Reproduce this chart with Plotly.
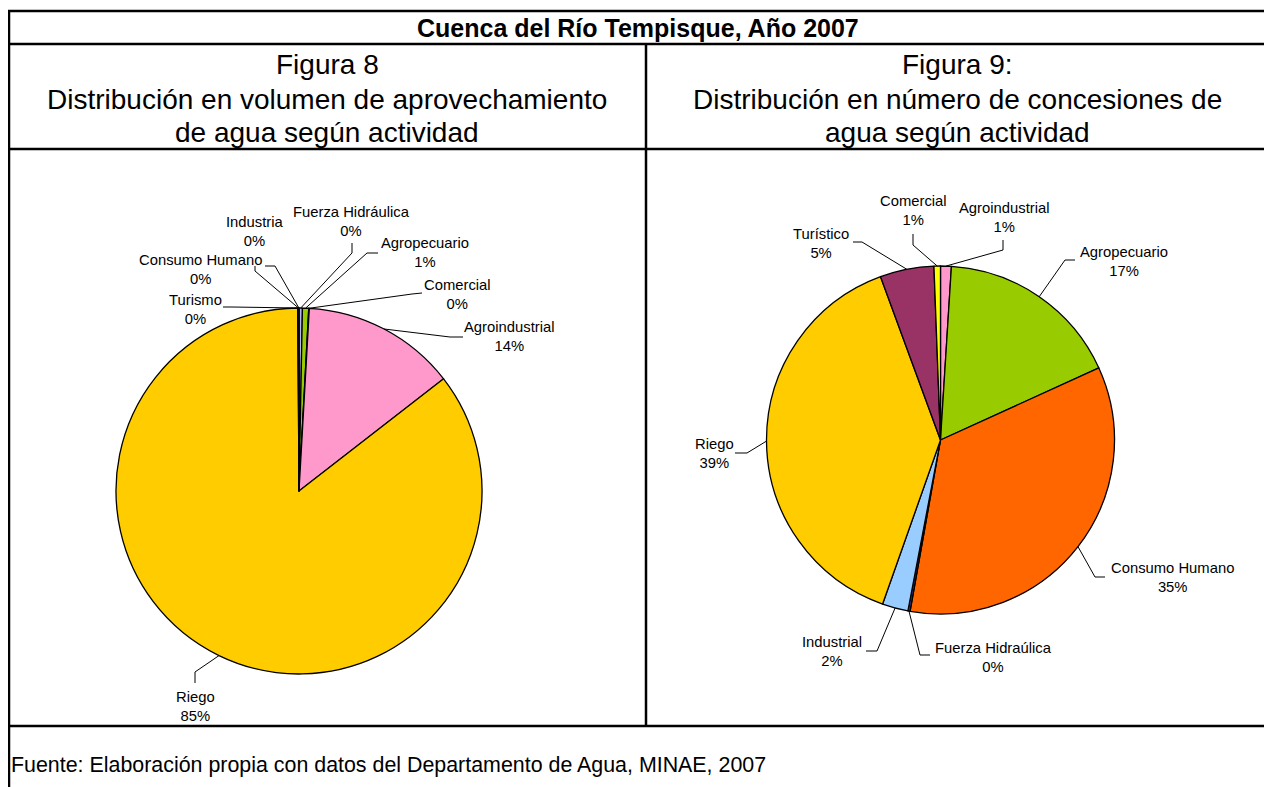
import math
import plotly.graph_objects as go

# page is 1272x787; the html body keeps an 8px margin, so the figure is a bit smaller
PAGE_W, PAGE_H = 1272, 787
OFF = 8
W, H = PAGE_W - OFF, PAGE_H - OFF

# Figura 8: volumen de aprovechamiento de agua segun actividad (%)
vol_actividad = ["Fuerza Hidráulica", "Agropecuario", "Comercial", "Agroindustrial",
                 "Riego", "Turismo", "Consumo Humano", "Industria"]
vol_valores = [0.3, 0.55, 0.05, 13.6, 85.4, 0.03, 0.05, 0.02]
vol_colores = ["#B8B8F0", "#99CC00", "#FFFF00", "#FF99CC",
               "#FFCC00", "#993366", "#FF6600", "#99CCFF"]

# Figura 9: numero de concesiones de agua segun actividad (%)
con_actividad = ["Agroindustrial", "Agropecuario", "Consumo Humano", "Fuerza Hidraúlica",
                 "Industrial", "Riego", "Turístico", "Comercial"]
con_valores = [1.0, 17.2, 34.6, 0.2, 2.4, 39.0, 5.0, 0.6]
con_colores = ["#FF99CC", "#99CC00", "#FF6600", "#333399",
               "#99CCFF", "#FFCC00", "#993366", "#FFFF00"]

FONT = "Arial, Liberation Sans, sans-serif"

# pie geometry in page pixels (center x, center y, radius)
P1 = (299, 491, 183)
P2 = (940.5, 440, 174)

# label layout: text center, leader start, leader elbow
lab1 = {
    "Fuerza Hidráulica": ((351, 221.5), (352, 243), (352, 253)),
    "Agropecuario": ((425, 252.5), (378, 253), (367, 253)),
    "Comercial": ((457, 294.5), (422, 293), (412, 294)),
    "Agroindustrial": ((509, 336.5), (463, 337), (450, 337)),
    "Riego": ((196, 706), (195, 683), (195, 672)),
    "Turismo": ((195, 309), (223, 307), (232, 307)),
    "Consumo Humano": ((200, 269), (255, 266), (255, 271)),
    "Industria": ((255, 232), (265, 266), (275, 266)),
}
lab2 = {
    "Agroindustrial": ((1004, 217), (1003, 240), (1003, 250)),
    "Agropecuario": ((1124, 261), (1075, 260), (1065, 260)),
    "Consumo Humano": ((1172, 577.5), (1105, 577), (1095, 577)),
    "Fuerza Hidraúlica": ((993, 657), (930, 655), (920, 655)),
    "Industrial": ((832, 651), (866, 651), (877, 651)),
    "Riego": ((714, 453), (735, 453), (747, 453)),
    "Turístico": ((821, 243), (853, 242), (862, 242)),
    "Comercial": ((913, 210.5), (913, 234), (913, 245)),
}


def fx(x):
    return (x - OFF) / W


def fy(y):
    return 1 - (y - OFF) / H


def pie_trace(geo, labels, values, colors):
    cx, cy, r = geo
    return go.Pie(
        labels=labels, values=values, sort=False, direction="clockwise", rotation=0,
        marker=dict(colors=colors, line=dict(color="black", width=1.3)),
        textinfo="none", showlegend=False,
        domain=dict(x=[fx(cx - r), fx(cx + r)], y=[fy(cy + r), fy(cy - r)]),
    )


fig = go.Figure()
fig.add_trace(pie_trace(P1, vol_actividad, vol_valores, vol_colores))
fig.add_trace(pie_trace(P2, con_actividad, con_valores, con_colores))

shapes = []
annotations = []


def add_labels(geo, labels, values, layout):
    cx, cy, r = geo
    tot = sum(values)
    for i, (name, v) in enumerate(zip(labels, values)):
        mid = (sum(values[:i]) + v / 2) / tot * 2 * math.pi
        ax, ay = cx + r * math.sin(mid), cy - r * math.cos(mid)
        (tx, ty), (sx, sy), (ex, ey) = layout[name]
        shapes.append(dict(
            type="path", xref="paper", yref="paper",
            path=f"M {fx(sx)},{fy(sy)} L {fx(ex)},{fy(ey)} L {fx(ax)},{fy(ay)}",
            line=dict(color="black", width=1),
        ))
        pct = round(v / tot * 100)
        annotations.append(dict(
            x=fx(tx), y=fy(ty), xref="paper", yref="paper", showarrow=False,
            text=f"{name}<br>{pct}%", align="center",
            xanchor="center", yanchor="middle",
            font=dict(family=FONT, size=14.8, color="black"),
        ))


add_labels(P1, vol_actividad, vol_valores, lab1)
add_labels(P2, con_actividad, con_valores, lab2)


def hline(x0, x1, y):
    shapes.append(dict(type="line", xref="paper", yref="paper",
                       x0=fx(x0), x1=fx(x1), y0=fy(y), y1=fy(y),
                       line=dict(color="black", width=2.5)))


def vline(x, y0, y1):
    shapes.append(dict(type="line", xref="paper", yref="paper",
                       x0=fx(x), x1=fx(x), y0=fy(y0), y1=fy(y1),
                       line=dict(color="black", width=2.5)))


# table borders
hline(8, 1272, 11)
hline(8, 1272, 44)
hline(8, 1272, 149)
hline(8, 1272, 726)
vline(9, 10, 787)
vline(646, 44, 727)
vline(1269, 10, 727)


def text(x, y, s, size, bold=False, anchor="center"):
    annotations.append(dict(
        x=fx(x), y=fy(y), xref="paper", yref="paper", showarrow=False,
        text=f"<b>{s}</b>" if bold else s, xanchor=anchor, yanchor="middle",
        font=dict(family=FONT, size=size, color="black"),
    ))


text(638, 27.5, "Cuenca del Río Tempisque, Año 2007", 25, bold=True)
text(327, 65, "Figura 8", 28)
text(327, 100, "Distribución en volumen de aprovechamiento", 28)
text(327, 133, "de agua según actividad", 28)
text(957, 65, "Figura 9:", 28)
text(957, 100, "Distribución en número de concesiones de", 28)
text(957, 133, "agua según actividad", 28)
text(9, 765, "Fuente: Elaboración propia con datos del Departamento de Agua, MINAE, 2007", 21.4, anchor="left")

fig.update_layout(
    width=W, height=H, margin=dict(l=0, r=0, t=0, b=0),
    paper_bgcolor="white", plot_bgcolor="white",
    shapes=shapes, annotations=annotations,
)

fig.write_html("out.html")
